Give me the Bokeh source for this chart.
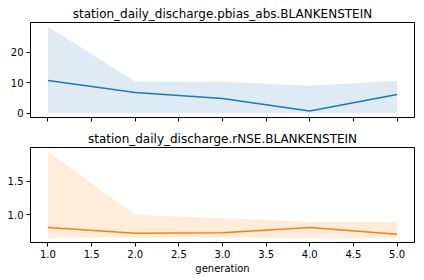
from bokeh.plotting import figure
from bokeh.layouts import column
from bokeh.models import Range1d, FixedTicker, NumeralTickFormatter
from bokeh.embed import file_html
from bokeh.resources import INLINE

generation = [1, 2, 3, 4, 5]
pbias_mean = [10.7, 6.8, 4.8, 0.7, 6.1]
pbias_low = [0.0, 0.0, 0.0, 0.0, 0.0]
pbias_high = [28.3, 10.4, 10.3, 9.0, 10.6]
rnse_mean = [0.81, 0.725, 0.73, 0.81, 0.71]
rnse_low = [0.66, 0.66, 0.66, 0.65, 0.65]
rnse_high = [1.934, 0.995, 0.95, 0.89, 0.89]

FONT = "DejaVu Sans"


def padded(lo, hi, frac=0.05):
    d = (hi - lo) * frac
    return Range1d(lo - d, hi + d)


def style(p, title):
    p.title.text = title
    p.title.align = "center"
    p.title.text_font = FONT
    p.title.text_font_size = "12px"
    p.title.text_font_style = "normal"
    p.title.text_color = "black"
    p.title.standoff = 3
    p.title.offset = 0
    p.outline_line_color = "black"
    p.outline_line_width = 1
    p.outline_line_alpha = 1
    p.xgrid.visible = False
    p.ygrid.visible = False
    for ax in (p.xaxis[0], p.yaxis[0]):
        ax.axis_line_color = None
        ax.major_tick_in = 0
        ax.major_tick_out = 4
        ax.minor_tick_line_color = None
        ax.major_tick_line_color = "black"
        ax.major_label_text_font = FONT
        ax.major_label_text_font_size = "10px"
        ax.major_label_text_color = "black"
        ax.major_label_standoff = 3


xr = padded(min(generation), max(generation))

p1 = figure(width=424, height=125, output_backend="svg", toolbar_location=None,
            x_range=xr,
            y_range=padded(min(pbias_low + pbias_mean), max(pbias_high + pbias_mean)),
            min_border_left=30, min_border_right=10, min_border_top=22, min_border_bottom=8)
style(p1, "station_daily_discharge.pbias_abs.BLANKENSTEIN")
p1.varea(x=generation, y1=pbias_low, y2=pbias_high, fill_color="#1f77b4", fill_alpha=0.15)
p1.line(generation, pbias_mean, line_color="#1f77b4", line_width=1.5)
p1.xaxis.ticker = FixedTicker(ticks=[1, 1.5, 2, 2.5, 3, 3.5, 4, 4.5, 5])
p1.xaxis.major_label_text_font_size = "0px"
p1.xaxis.major_label_text_color = None
p1.yaxis.ticker = FixedTicker(ticks=[0, 10, 20])

p2 = figure(width=424, height=155, output_backend="svg", toolbar_location=None,
            x_range=xr,
            y_range=padded(min(rnse_low + rnse_mean), max(rnse_high + rnse_mean)),
            min_border_left=30, min_border_right=10, min_border_top=22, min_border_bottom=38)
style(p2, "station_daily_discharge.rNSE.BLANKENSTEIN")
p2.varea(x=generation, y1=rnse_low, y2=rnse_high, fill_color="#ff7f0e", fill_alpha=0.15)
p2.line(generation, rnse_mean, line_color="#ff7f0e", line_width=1.5)
p2.xaxis.ticker = FixedTicker(ticks=[1, 1.5, 2, 2.5, 3, 3.5, 4, 4.5, 5])
p2.xaxis.formatter = NumeralTickFormatter(format="0.0")
p2.yaxis.ticker = FixedTicker(ticks=[1.0, 1.5])
p2.yaxis.formatter = NumeralTickFormatter(format="0.0")
p2.xaxis.axis_label = "generation"
p2.xaxis.axis_label_text_font = FONT
p2.xaxis.axis_label_text_font_size = "10px"
p2.xaxis.axis_label_text_font_style = "normal"
p2.xaxis.axis_label_text_color = "black"
p2.xaxis.axis_label_standoff = 2

layout = column(p1, p2, spacing=0)
open("out.html", "w").write(file_html(layout, INLINE))
